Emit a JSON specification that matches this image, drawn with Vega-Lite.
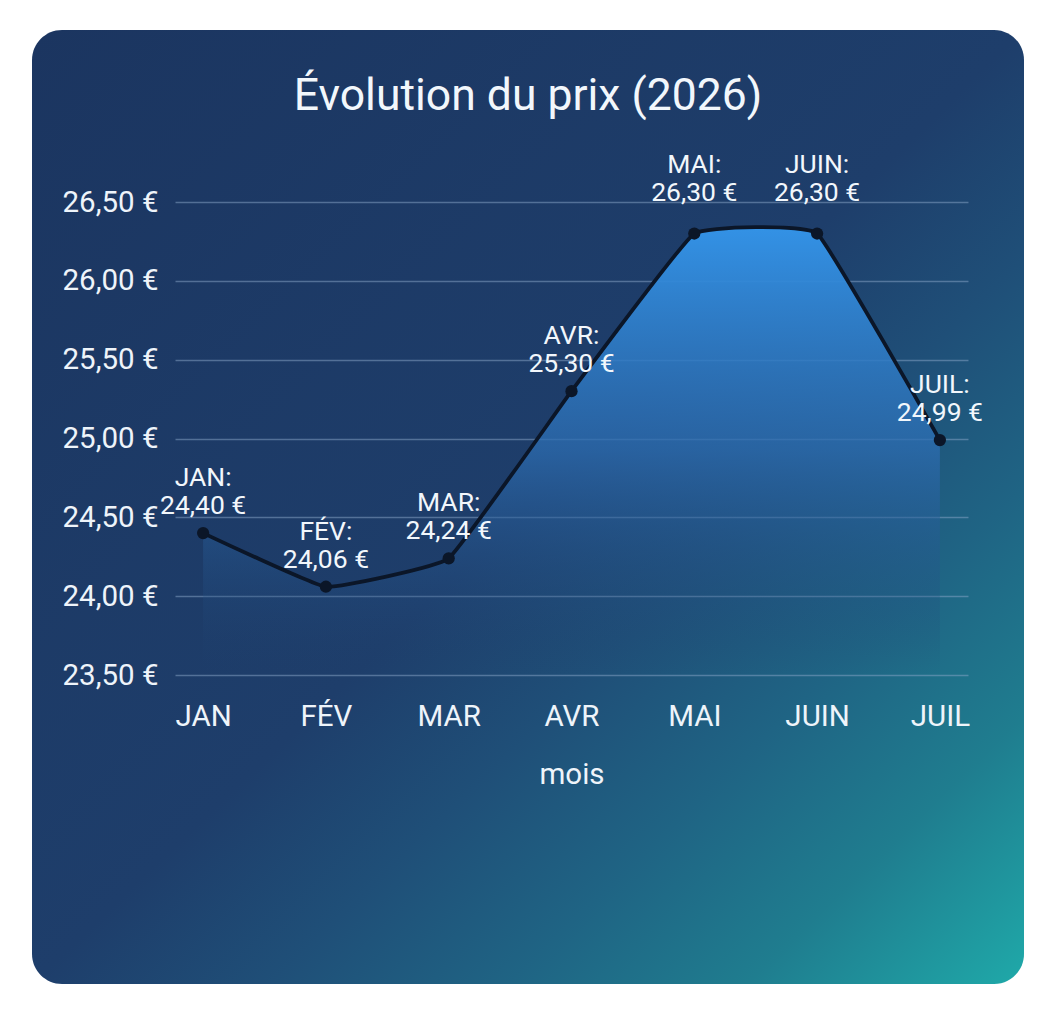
{
  "$schema": "https://vega.github.io/schema/vega-lite/v6.json",
  "width": 992,
  "height": 954,
  "autosize": {"type": "none"},
  "padding": {"left": 32, "top": 30, "right": 31, "bottom": 40},
  "background": "#ffffff",
  "title": {
    "text": "Évolution du prix (2026)",
    "anchor": "middle",
    "baseline": "bottom",
    "offset": -133,
    "fontSize": 44.5,
    "fontWeight": "normal",
    "font": "Roboto",
    "color": "#f2f7fc"
  },
  "data": {
    "values": [
      {"mois": "JAN", "prix": 24.40},
      {"mois": "FÉV", "prix": 24.06},
      {"mois": "MAR", "prix": 24.24},
      {"mois": "AVR", "prix": 25.30},
      {"mois": "MAI", "prix": 26.30},
      {"mois": "JUIN", "prix": 26.30},
      {"mois": "JUIL", "prix": 24.99}
    ]
  },
  "transform": [
    {"calculate": "datum.mois + ':\\n' + format(datum.prix, '$.2f')", "as": "etiquette"}
  ],
  "encoding": {
    "x": {
      "field": "mois",
      "type": "ordinal",
      "sort": null,
      "scale": {"type": "point", "range": [143, 936], "padding": 0.229},
      "axis": {
        "title": "mois",
        "orient": "bottom",
        "offset": -309,
        "domain": false,
        "ticks": false,
        "tickSize": 0,
        "grid": false,
        "labelAngle": 0,
        "labelPadding": 27,
        "titlePadding": 30
      }
    },
    "y": {
      "field": "prix",
      "type": "quantitative",
      "scale": {"domain": [23.5, 26.5], "range": [645, 172], "zero": false, "nice": false},
      "axis": {
        "title": null,
        "values": [23.5, 24, 24.5, 25, 25.5, 26, 26.5],
        "format": "$.2f",
        "offset": -143,
        "domain": false,
        "ticks": false,
        "tickSize": 0,
        "labelPadding": 17,
        "grid": true
      }
    }
  },
  "layer": [
    {
      "mark": {
        "type": "area",
        "interpolate": "cardinal",
        "tension": 0.72,
        "color": {
          "gradient": "linear",
          "x1": 0, "y1": 0, "x2": 0, "y2": 1,
          "stops": [
            {"offset": 0, "color": "rgba(51,146,230,1)"},
            {"offset": 0.5, "color": "rgba(44,108,176,0.75)"},
            {"offset": 1, "color": "rgba(30,64,108,0)"}
          ]
        }
      },
      "encoding": {"y2": {"datum": 23.5}}
    },
    {
      "mark": {"type": "line", "interpolate": "cardinal", "tension": 0.72, "color": "#0b1628", "strokeWidth": 3.8}
    },
    {
      "mark": {"type": "point", "shape": "circle", "filled": true, "opacity": 1, "size": 150, "color": "#0b1628"}
    },
    {
      "transform": [{"filter": "datum.mois != 'MAI' && datum.mois != 'JUIN'"}],
      "mark": {
        "type": "text",
        "lineBreak": "\n",
        "lineHeight": 28,
        "baseline": "alphabetic",
        "align": "center",
        "dy": -47,
        "fontSize": 26.5,
        "font": "Roboto",
        "color": "#f2f7fc"
      },
      "encoding": {"text": {"field": "etiquette"}}
    },
    {
      "transform": [{"filter": "datum.mois == 'MAI' || datum.mois == 'JUIN'"}],
      "mark": {
        "type": "text",
        "lineBreak": "\n",
        "lineHeight": 28,
        "baseline": "alphabetic",
        "align": "center",
        "dy": -61,
        "fontSize": 26.5,
        "font": "Roboto",
        "color": "#f2f7fc"
      },
      "encoding": {"text": {"field": "etiquette"}}
    }
  ],
  "config": {
    "locale": {
      "number": {"decimal": ",", "thousands": " ", "grouping": [3], "currency": ["", " €"]}
    },
    "font": "Roboto",
    "view": {
      "stroke": null,
      "cornerRadius": 30,
      "fill": {
        "gradient": "linear",
        "x1": 0, "y1": 0, "x2": 1, "y2": 1,
        "stops": [
          {"offset": 0, "color": "#1b3560"},
          {"offset": 0.5, "color": "#1e3e6b"},
          {"offset": 0.62, "color": "#1f4f78"},
          {"offset": 0.74, "color": "#1f6484"},
          {"offset": 0.86, "color": "#1f7d8f"},
          {"offset": 1, "color": "#1fa9a9"}
        ]
      }
    },
    "axis": {
      "labelFont": "Roboto",
      "labelFontSize": 29.5,
      "labelColor": "#eef4fa",
      "titleFont": "Roboto",
      "titleFontSize": 29.5,
      "titleFontWeight": "normal",
      "titleColor": "#eef4fa",
      "gridColor": "#8aa6c8",
      "gridOpacity": 0.5,
      "gridWidth": 1.5
    }
  }
}
